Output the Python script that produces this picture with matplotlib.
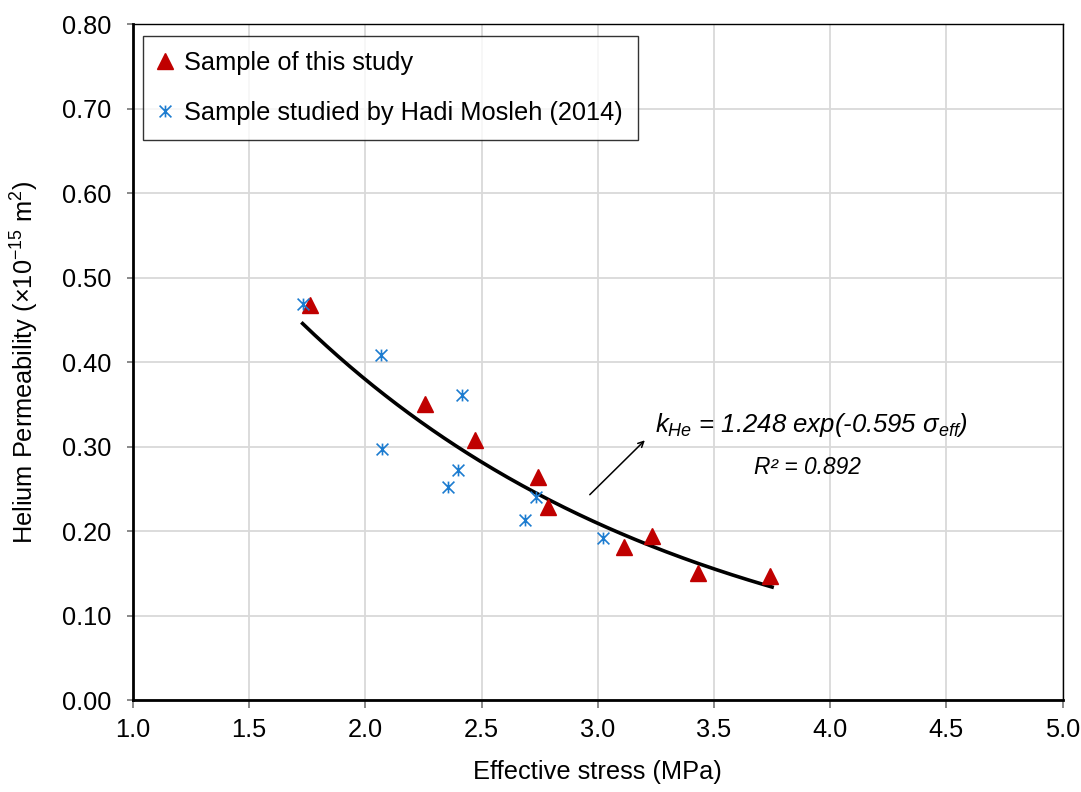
import numpy as np
import matplotlib
matplotlib.use("Agg")
import matplotlib.pyplot as plt
from matplotlib.path import Path

plt.rcParams["font.family"] = ["Liberation Sans", "DejaVu Sans"]
plt.rcParams["mathtext.fontset"] = "custom"
plt.rcParams["mathtext.rm"] = "Liberation Sans"
plt.rcParams["mathtext.it"] = "Liberation Sans:italic"
plt.rcParams["mathtext.bf"] = "Liberation Sans:bold"

# sample of this study (triangles)
study_x = [1.763, 2.256, 2.471, 2.743, 2.787, 3.113, 3.233, 3.430, 3.741]
study_k = [0.468, 0.351, 0.308, 0.264, 0.229, 0.182, 0.194, 0.151, 0.147]

# Hadi Mosleh (2014) samples
mosleh_x = [1.730, 2.066, 2.416, 2.073, 2.398, 2.355, 2.735, 2.688, 3.024]
mosleh_k = [0.469, 0.409, 0.361, 0.297, 0.272, 0.252, 0.241, 0.213, 0.192]

# fitted trend k = a*exp(b*sigma)
fit_a = 1.248
fit_b = -0.595
fit_range = [1.73, 3.75]

# asterisk marker (vertical bar + X)
star = Path([(0, -1), (0, 1), (-1, -1), (1, 1), (-1, 1), (1, -1)],
            [Path.MOVETO, Path.LINETO] * 3)

fs = 18.3

fig = plt.figure(figsize=(10.81, 7.92), dpi=100)
ax = fig.add_axes([0.123, 0.1158, 0.860, 0.8535])

sx = np.linspace(fit_range[0], fit_range[1], 200)
ax.plot(sx, fit_a * np.exp(fit_b * sx), color="black", lw=2.6, zorder=3)

ax.plot(study_x, study_k, linestyle="none", marker="^", ms=11.5,
        color="#C00000", label="Sample of this study", zorder=4)
ax.plot(mosleh_x, mosleh_k, linestyle="none", marker=star, ms=8.5,
        mec="#1C7CD0", mew=1.2, label="Sample studied by Hadi Mosleh (2014)", zorder=4)

ax.set_xlim(1.0, 5.0)
ax.set_ylim(0.0, 0.8)
ax.set_xticks(np.arange(1.0, 5.01, 0.5))
ax.set_yticks(np.arange(0.0, 0.801, 0.1))
ax.set_xticklabels([f"{v:.1f}" for v in np.arange(1.0, 5.01, 0.5)])
ax.set_yticklabels([f"{v:.2f}" for v in np.arange(0.0, 0.801, 0.1)])
ax.grid(True, color="#D9D9D9", lw=1.3)
ax.set_axisbelow(True)

for s in ["left", "bottom"]:
    ax.spines[s].set_linewidth(2.0)
for s in ["top", "right"]:
    ax.spines[s].set_linewidth(1.0)
ax.tick_params(axis="both", direction="out", color="#808080", width=1.3,
               labelsize=fs)
ax.tick_params(axis="y", length=4.5, pad=11)
ax.tick_params(axis="x", length=5.5, pad=7)

ax.set_xlabel("Effective stress (MPa)", fontsize=fs, labelpad=13)
ax.set_ylabel(r"Helium Permeability ($\times$10$^{-15}$ m$^2$)", fontsize=fs, labelpad=15)

ax.annotate("", xy=(3.211, 0.310), xytext=(2.957, 0.241),
            arrowprops=dict(arrowstyle="->", color="black", lw=1.1))
ax.text(3.245, 0.326, r"$k_{He}$ = 1.248 exp(-0.595 σ$_{eff}$)", fontsize=18.5,
        fontstyle="italic", va="center", ha="left")
ax.text(3.9, 0.275, "R² = 0.892", fontsize=16.4, fontstyle="italic",
        va="center", ha="center")

leg = ax.legend(loc="upper left", bbox_to_anchor=(0.0105, 0.983), fontsize=fs,
                frameon=True, fancybox=False, edgecolor="black", handlelength=0.6,
                handletextpad=0.45, borderpad=0.58, labelspacing=1.05, borderaxespad=0.0)
leg.get_frame().set_linewidth(1.0)

fig.savefig("out.png", dpi=100)
